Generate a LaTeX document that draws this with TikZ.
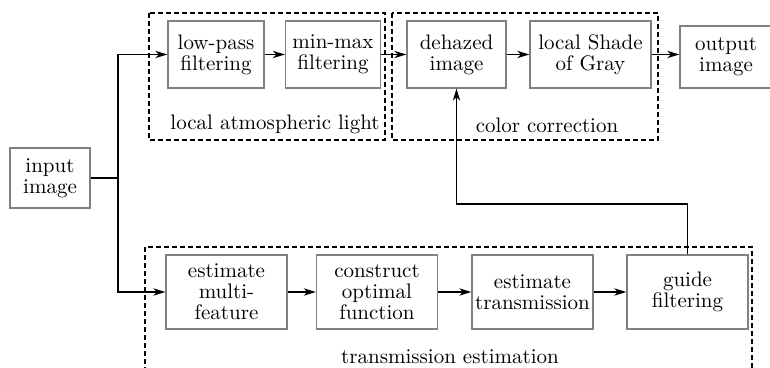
\documentclass[tikz,border=0pt]{standalone}
\usepackage{tikz}
\usetikzlibrary{calc, arrows.meta}

\begin{document}
\begin{tikzpicture}[x=0.5pt, y=-0.5pt]
		\tikzstyle{block}=[rectangle, draw=gray, line width=0.6pt, align=center, inner sep=0pt, font=\fontsize{10.5}{10.5}\selectfont]
		\tikzstyle{upper}=[block, minimum height=33.5pt]
		\tikzstyle{lower}=[block, minimum width=60.5pt, minimum height=37pt]
		\tikzstyle{group}=[draw, line width=0.6pt, dash pattern=on 2.5pt off 1.5pt]
		\tikzstyle{caption}=[font=\fontsize{10.5}{10.5}\selectfont]
		\tikzstyle{flow}=[-{Stealth[length=6pt, width=3.6pt, inset=1.8pt]}, line width=0.85pt]

		\useasboundingbox (0,0) rectangle (770,368);

		\node[block, minimum width=40pt, minimum height=30pt] (input) at (50,178) {
			input\\image
		};

		\node[upper, minimum width=48pt] (lowpass) at (216,54.5) {
			low-pass\\filtering
		};
		\node[upper, minimum width=47.5pt] (minmax) at (333,54.5) {
			min-max\\filtering
		};
		\node[upper, minimum width=49.5pt] (dehazed) at (456.5,54.5) {
			dehazed\\image
		};
		\node[upper, minimum width=60.5pt] (shade) at (590.5,54.5) {
			local Shade\\of Gray
		};
		\node[block, minimum width=46pt, minimum height=31pt] (output) at (726,57) {
			output\\image
		};

		\node[lower] (multi) at (226.5,292) {
			estimate\\multi-\\feature
		};
		\node[lower] (construct) at (377,292) {
			construct\\optimal\\function
		};
		\node[lower] (transmission) at (532.5,292) {
			estimate\\transmission
		};
		\node[lower] (guide) at (687.5,292) {
			guide\\filtering
		};

		\draw[group] (149,13) rectangle (385,140);
		\draw[group] (392,13) rectangle (658,140);
		\draw[group] (145,247) rectangle (752,380);

		\node[caption] (atmlabel) at (275,124) {local atmospheric light};
		\node[caption] (colorlabel) at (547,125) {color correction};
		\node[caption] (translabel) at (450,357) {transmission estimation};

		\coordinate (split) at (118,178);
		\coordinate (turn) at (456.5,204);

		\draw[line width=0.85pt] (input.east) -- (split);
		\draw[flow] (split) |- (lowpass.west);
		\draw[flow] (split) |- (multi.west);
		\draw[flow] (lowpass) -- (minmax);
		\draw[flow] (minmax) -- (dehazed);
		\draw[flow] (dehazed) -- (shade);
		\draw[flow] (shade.east) -- (shade.east -| output.west);
		\draw[flow] (multi) -- (construct);
		\draw[flow] (construct) -- (transmission);
		\draw[flow] (transmission) -- (guide);
		\draw[flow, line width=0.7pt] (guide.north) |- (turn) -- (dehazed.south);

	\end{tikzpicture}
\end{document}
